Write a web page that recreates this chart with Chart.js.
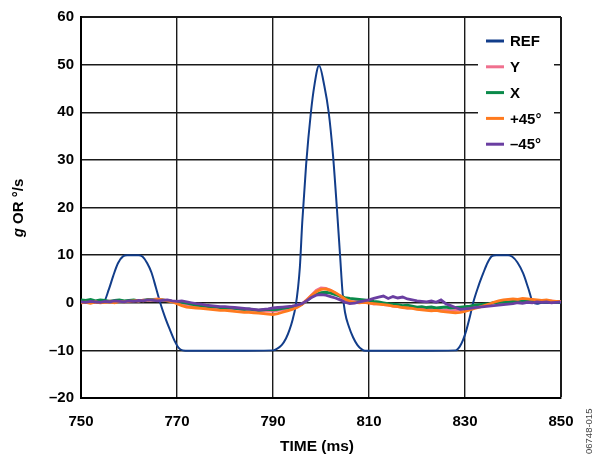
<!DOCTYPE html>
<html>
<head>
<meta charset="utf-8">
<script src="https://cdn.jsdelivr.net/npm/chart.js@4.4.0/dist/chart.umd.min.js"></script>
<style>
html,body{margin:0;padding:0;background:#fff;}
#wrap{width:595px;height:454px;position:relative;}
</style>
</head>
<body>
<div id="wrap"><canvas id="c" width="595" height="454"></canvas></div>
<script>
// ---- data ----
const seriesNames = ["REF", "Y", "X", "+45\u00B0", "\u201345\u00B0"];
const seriesColors = ["#123d8a", "#f0708e", "#0a8a4a", "#ff7a1e", "#6a3ea1"];

const refTime = [750, 754.6, 755.8, 756.7, 757.7, 758.8, 759.6, 762.0, 762.8, 763.8, 764.7, 765.6, 766.5, 767.5, 768.5, 769.5, 770.3, 771.2, 772.5, 780, 790.0, 790.8, 791.8, 792.7, 793.4, 794.1, 794.7, 795.2, 795.6, 796.1, 796.9, 797.9, 798.6, 799.6, 800.7, 801.6, 802.5, 803.3, 804.0, 804.5, 805.0, 805.8, 806.7, 807.6, 808.5, 809.2, 820, 828.0, 828.9, 829.6, 830.3, 831.0, 831.7, 832.8, 833.8, 834.7, 835.6, 836.5, 839.0, 839.8, 840.9, 842.1, 843.2, 844.2, 845.0, 846.0, 850];
const refValue = [0, 0, 2.8, 5.6, 8.3, 9.8, 10, 10, 9.7, 8.3, 6.3, 3.2, 0, -3, -5.6, -8, -9.4, -10, -10.1, -10.1, -10, -9.7, -8.9, -7.5, -5.8, -3.5, -0.8, 3, 7.5, 17, 29, 40, 45.5, 49.8, 45.5, 40, 31, 20, 9.5, 2, -2, -5, -7.3, -8.9, -9.8, -10.1, -10.1, -10, -9.2, -7.8, -5.7, -3, 0, 3.5, 6.2, 8.4, 9.8, 10, 10, 9.7, 8.5, 6.2, 3, 0, -0.2, 0, 0];

const timeMs = [750,751,752,753,754,755,756,757,758,759,760,761,762,763,764,765,766,767,768,769,770,771,772,773,774,775,776,777,778,779,780,781,782,783,784,785,786,787,788,789,790,791,792,793,794,795,796,797,798,799,800,801,802,803,804,805,806,807,808,809,810,811,812,813,814,815,816,817,818,819,820,821,822,823,824,825,826,827,828,829,830,831,832,833,834,835,836,837,838,839,840,841,842,843,844,845,846,847,848,849,850];

const yValue = [0.3,0.2,0.4,0.1,0.3,0.2,0.4,0.3,0.5,0.3,
  0.4,0.5,0.3,0.6,0.5,0.7,0.8,0.6,0.5,0.3,
  0.1,-0.2,-0.5,-0.6,-0.8,-0.7,-0.9,-1.0,-1.1,-1.0,
  -1.2,-1.3,-1.2,-1.4,-1.5,-1.6,-1.5,-1.7,-1.8,-1.7,
  -1.8,-1.6,-1.5,-1.3,-1.1,-0.8,-0.3,0.6,1.6,2.6,
  3.1,3.0,2.6,2.0,1.3,0.6,0.2,0.3,0.5,0.2,
  0.0,-0.3,-0.2,-0.4,-0.5,-0.7,-0.8,-0.9,-1.1,-1.0,
  -1.2,-1.3,-1.4,-1.3,-1.5,-1.6,-1.5,-1.7,-1.6,-1.5,
  -1.3,-1.1,-0.9,-0.7,-0.5,-0.3,0.0,0.2,0.4,0.5,
  0.6,0.5,0.7,0.6,0.5,0.4,0.5,0.3,0.4,0.2,
  0.3];

const xValue = [0.6,0.5,0.7,0.4,0.6,0.5,0.3,0.5,0.6,0.4,
  0.5,0.6,0.4,0.5,0.7,0.6,0.5,0.6,0.4,0.3,
  0.2,0.1,-0.1,-0.3,-0.5,-0.6,-0.7,-0.9,-0.8,-1.0,
  -1.1,-1.0,-1.2,-1.3,-1.4,-1.3,-1.5,-1.6,-1.5,-1.4,
  -1.5,-1.4,-1.2,-1.0,-0.9,-0.7,-0.3,0.4,1.2,1.8,
  2.1,2.2,2.0,1.7,1.4,1.1,0.9,0.8,0.7,0.6,
  0.5,0.3,0.2,0.0,-0.2,-0.3,-0.4,-0.6,-0.5,-0.7,
  -0.9,-0.8,-1.0,-0.9,-1.1,-1.0,-0.9,-1.1,-1.0,-0.9,
  -0.8,-0.7,-0.5,-0.4,-0.3,-0.2,0.0,0.1,0.2,0.1,
  0.3,0.2,0.4,0.3,0.2,0.4,0.3,0.2,0.3,0.1,
  0.2];

const plus45Value = [0.0,0.1,-0.1,0.2,0.0,0.1,0.2,0.0,0.3,0.2,
  0.3,0.4,0.5,0.4,0.6,0.5,0.7,0.6,0.4,0.2,
  -0.2,-0.6,-0.9,-1.0,-1.1,-1.2,-1.3,-1.4,-1.5,-1.6,
  -1.6,-1.7,-1.8,-1.9,-2.0,-2.0,-2.1,-2.2,-2.3,-2.4,
  -2.5,-2.3,-2.0,-1.7,-1.4,-1.0,-0.4,0.5,1.5,2.3,
  2.8,2.9,2.6,2.1,1.5,0.8,0.3,0.1,0.0,0.1,
  -0.1,-0.2,-0.3,-0.4,-0.5,-0.7,-0.8,-1.0,-1.1,-1.2,
  -1.4,-1.5,-1.6,-1.7,-1.6,-1.8,-1.9,-2.0,-2.1,-2.0,
  -1.8,-1.5,-1.2,-0.9,-0.6,-0.3,0.1,0.4,0.6,0.7,
  0.8,0.7,0.9,0.8,0.7,0.6,0.5,0.6,0.4,0.3,
  0.3];

const minus45Value = [0.2,0.1,0.3,0.2,0.1,0.3,0.2,0.4,0.3,0.2,
  0.4,0.3,0.5,0.4,0.6,0.5,0.4,0.5,0.6,0.4,
  0.3,0.4,0.2,0.0,-0.2,-0.3,-0.5,-0.6,-0.7,-0.8,
  -0.8,-0.9,-1.0,-1.1,-1.2,-1.3,-1.4,-1.5,-1.4,-1.3,
  -1.1,-1.0,-0.9,-0.8,-0.7,-0.5,-0.2,0.4,1.1,1.6,
  1.7,1.6,1.3,1.0,0.6,0.1,-0.2,-0.1,0.2,0.4,
  0.6,0.9,1.2,1.4,0.9,1.3,1.0,1.2,0.8,0.6,
  0.4,0.3,0.2,0.4,0.1,0.6,-0.2,-0.6,-1.0,-1.4,
  -1.3,-1.2,-1.0,-0.9,-0.8,-0.7,-0.6,-0.5,-0.4,-0.3,
  -0.2,0.0,-0.1,0.1,0.0,0.2,0.1,0.2,0.0,0.1,
  0.2];

const xTicks = [750, 770, 790, 810, 830, 850];
const yTicks = [-20, -10, 0, 10, 20, 30, 40, 50, 60];

// ---- build ----
function pts(xs, ys) { return xs.map((x, i) => ({ x: x, y: ys[i] })); }
const noisy = [yValue, xValue, plus45Value, minus45Value];

const datasets = [{
  label: seriesNames[0],
  data: pts(refTime, refValue),
  borderColor: seriesColors[0],
  borderWidth: 2,
  pointRadius: 0,
  cubicInterpolationMode: 'monotone',
  order: 5
}];
noisy.forEach((vals, k) => {
  datasets.push({
    label: seriesNames[k + 1],
    data: pts(timeMs, vals),
    borderColor: seriesColors[k + 1],
    borderWidth: 2.8,
    pointRadius: 0,
    tension: 0,
    order: 4 - k
  });
});

const FONT = "'Liberation Sans', Arial, sans-serif";

const decor = {
  id: 'decor',
  beforeDatasetsDraw(chart) {
    const ctx = chart.ctx;
    ctx.save();
    // legend box
    ctx.fillStyle = '#fff';
    ctx.fillRect(478, 26, 76, 130);
    const y0 = 41, dy = 25.8;
    ctx.font = 'bold 15px ' + FONT;
    ctx.textBaseline = 'middle';
    ctx.textAlign = 'left';
    seriesNames.forEach((n, i) => {
      const y = y0 + dy * i;
      ctx.strokeStyle = seriesColors[i];
      ctx.lineWidth = 3;
      ctx.beginPath();
      ctx.moveTo(486, y);
      ctx.lineTo(504, y);
      ctx.stroke();
      ctx.fillStyle = '#000';
      ctx.fillText(n, 510, y + 1);
    });
    ctx.restore();
  },
  afterDraw(chart) {
    const ctx = chart.ctx;
    ctx.save();
    // x title
    ctx.fillStyle = '#000';
    ctx.font = 'bold 15.5px ' + FONT;
    ctx.textAlign = 'center';
    ctx.textBaseline = 'middle';
    ctx.fillText('TIME (ms)', 317, 447);
    // y title with italic g
    ctx.translate(19, 208);
    ctx.rotate(-Math.PI / 2);
    const fI = 'italic bold 15px ' + FONT, fB = 'bold 15px ' + FONT;
    ctx.font = fI; const w1 = ctx.measureText('g').width;
    ctx.font = fB; const w2 = ctx.measureText(' OR \u00B0/s').width;
    const start = -(w1 + w2) / 2;
    ctx.textAlign = 'left';
    ctx.font = fI; ctx.fillText('g', start, 0);
    ctx.font = fB; ctx.fillText(' OR \u00B0/s', start + w1, 0);
    ctx.restore();
    // watermark
    ctx.save();
    ctx.translate(594, 454);
    ctx.rotate(-Math.PI / 2);
    ctx.font = '9.5px ' + FONT;
    ctx.fillStyle = '#444';
    ctx.textAlign = 'left';
    ctx.textBaseline = 'bottom';
    ctx.fillText('06748-015', 0, 0);
    ctx.restore();
  }
};

new Chart(document.getElementById('c'), {
  type: 'line',
  data: { datasets: datasets },
  options: {
    responsive: false,
    animation: false,
    events: [],
    layout: { padding: { left: 0, right: 34, top: 17, bottom: 0 } },
    plugins: { legend: { display: false }, tooltip: { enabled: false } },
    scales: {
      x: {
        type: 'linear',
        min: xTicks[0], max: xTicks[xTicks.length - 1],
        afterBuildTicks: s => { s.ticks = xTicks.map(v => ({ value: v })); },
        afterFit: s => { s.height = 56; },
        ticks: { color: '#000', font: { family: FONT, size: 15, weight: 'bold' }, padding: 15, maxRotation: 0 },
        grid: { color: '#1a1a1a', lineWidth: c => (c.tick && c.tick.value === 850) ? 2 : 1.4, drawTicks: false },
        border: { color: '#000', width: 2 }
      },
      y: {
        min: yTicks[0], max: yTicks[yTicks.length - 1],
        afterBuildTicks: s => { s.ticks = yTicks.map(v => ({ value: v })); },
        afterFit: s => { s.width = 81; },
        ticks: { color: '#000', font: { family: FONT, size: 15, weight: 'bold' }, padding: 7,
          callback: v => String(v).replace('-', '\u2013') },
        grid: { color: '#1a1a1a', lineWidth: c => (c.tick && c.tick.value === 60) ? 2 : 1.4, drawTicks: false },
        border: { color: '#000', width: 2 }
      }
    }
  },
  plugins: [decor]
});
</script>
</body>
</html>
